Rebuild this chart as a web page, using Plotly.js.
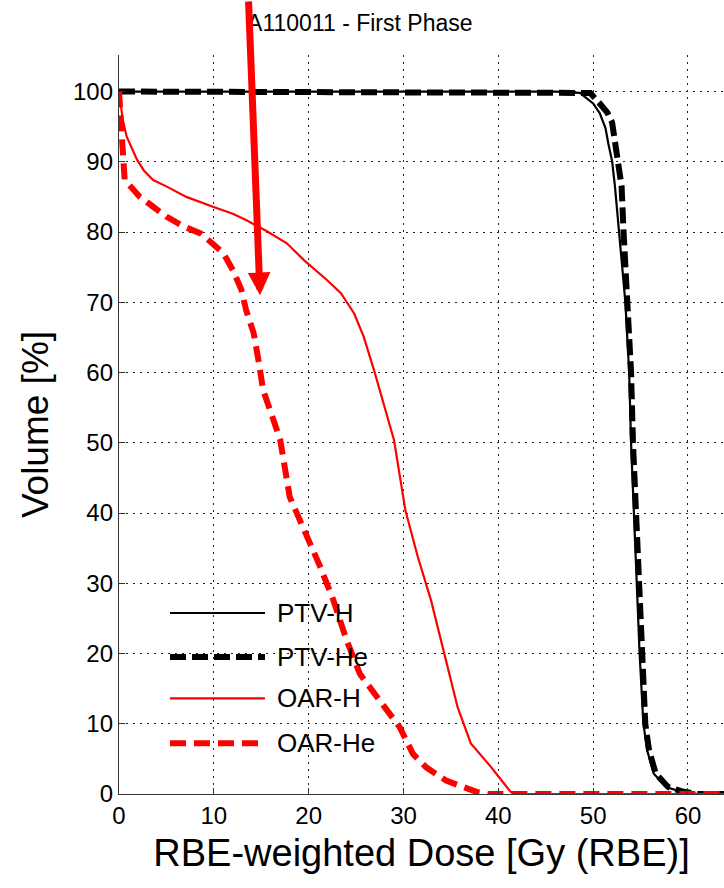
<!DOCTYPE html>
<html>
<head>
<meta charset="utf-8">
<script src="https://cdn.plot.ly/plotly-3.0.1.min.js"></script>
<style>
  html, body { margin: 0; padding: 0; background: #ffffff; }
  #chart { width: 724px; height: 888px; }
</style>
</head>
<body>
<div id="chart"></div>
<script>
// ---- Data ----
const chartTitle = 'A110011 - First Phase';
const xTitle = 'RBE-weighted Dose [Gy (RBE)]';
const yTitle = 'Volume [%]';
const xTicks = [0, 10, 20, 30, 40, 50, 60];
const yTicks = [0, 10, 20, 30, 40, 50, 60, 70, 80, 90, 100];
const seriesNames = ['PTV-H', 'PTV-He', 'OAR-H', 'OAR-He'];

const dosePtvH = [0, 46, 48.6, 50.0, 50.7, 51.3, 51.6, 52.0, 52.3, 52.6, 52.9, 53.4, 53.8, 54.0, 54.3, 54.6, 54.9, 55.3, 55.7, 56.4, 57.7, 59.1, 61, 64];
const volPtvH  = [100, 100, 99.8, 98.3, 96.9, 94.8, 92.6, 90.1, 86.5, 82.2, 77, 70, 60, 50, 40, 30, 20, 10, 6.2, 2.9, 1.0, 0.4, 0, 0];

const dosePtvHe = [0, 47, 49.7, 50.7, 51.5, 52.0, 52.3, 52.7, 53.0, 53.2, 53.6, 54.0, 54.2, 54.5, 54.8, 55.1, 55.5, 55.9, 56.6, 57.9, 59.3, 61, 64];
const volPtvHe  = [100, 100, 99.8, 98.3, 97, 95.6, 92.9, 90.1, 86.5, 80.2, 70, 60, 50, 40, 30, 20, 10, 6.2, 2.9, 1.0, 0.4, 0, 0];

const doseOarH = [0, 0.4, 0.8, 1.3, 1.9, 2.6, 3.6, 5.0, 7.1, 9.9, 12.0, 13.4, 15.6, 17.7, 19.5, 21.9, 23.4, 24.8, 25.8, 26.9, 27.9, 29.0, 30.2, 31.5, 32.9, 34.3, 35.7, 37.1, 39.2, 40.6, 41.3, 42.0, 64];
const volOarH  = [100, 96, 93.6, 92.2, 90.3, 88.8, 87.4, 86.5, 85.0, 83.6, 82.6, 81.7, 80.1, 78.4, 76.0, 73.2, 71.3, 68.4, 65.1, 60.3, 55.6, 50.4, 40.4, 33.8, 27.6, 20.0, 12.4, 7.2, 3.9, 1.5, 0.3, 0, 0];

const doseOarHe = [0, 0.3, 0.6, 1.2, 2.2, 3.6, 5.0, 6.8, 8.6, 10.0, 11.0, 12.0, 12.9, 13.4, 14.2, 14.7, 15.2, 16.3, 17.0, 18.0, 19.1, 20.1, 21.2, 22.6, 24.0, 25.4, 27.5, 29.6, 31.0, 32.4, 34.5, 36.7, 37.7, 39.0, 64];
const volOarHe  = [100, 93, 87.4, 86.5, 85.0, 83.6, 82.2, 80.8, 79.8, 78.2, 77.0, 74.6, 71.8, 68.9, 65.6, 61.8, 57.5, 53.2, 50.4, 42.3, 39.0, 36.1, 32.4, 27.6, 21.9, 17.1, 13.3, 9.5, 5.7, 3.8, 1.9, 0.8, 0.3, 0, 0];

// Arrow annotation tip (data coords)
const arrowTipDose = 14.87;
const arrowTipVol = 71.0;

// ---- Styles ----
const FONT = 'Liberation Sans, Arial, Helvetica, sans-serif';
const styles = [
  { color: '#000000', width: 2.2, dash: 'solid' },
  { color: '#000000', width: 6, dash: '16px,6px' },
  { color: '#ff0000', width: 2.2, dash: 'solid' },
  { color: '#ff0000', width: 6, dash: '16px,8px' }
];
const xs = [dosePtvH, dosePtvHe, doseOarH, doseOarHe];
const ys = [volPtvH, volPtvHe, volOarH, volOarHe];

const traces = seriesNames.map((name, i) => ({
  type: 'scatter',
  mode: 'lines',
  name: name,
  x: xs[i],
  y: ys[i],
  line: { color: styles[i].color, width: styles[i].width, dash: styles[i].dash, shape: 'linear' },
  showlegend: false,
  hoverinfo: 'skip'
}));

// Manual legend (long line samples like the reference)
const legX0 = 0.0843, legX1 = 0.2413, legTextX = 0.2579;
const legRows = [0.2449, 0.1854, 0.1295, 0.0686];
const shapes = [];
const annotations = [];
seriesNames.forEach((name, i) => {
  shapes.push({
    type: 'line', xref: 'paper', yref: 'paper',
    x0: legX0, x1: legX1, y0: legRows[i], y1: legRows[i],
    line: { color: styles[i].color, width: styles[i].width, dash: styles[i].dash }
  });
  annotations.push({
    xref: 'paper', yref: 'paper', x: legTextX, y: legRows[i],
    xanchor: 'left', yanchor: 'middle', showarrow: false,
    text: name, font: { family: FONT, size: 26, color: '#000' }
  });
});

annotations.push({
  xref: 'x', yref: 'y', x: arrowTipDose, y: arrowTipVol,
  ax: -11.5, ay: -300, text: '', showarrow: true,
  arrowhead: 2, arrowsize: 0.65, arrowwidth: 7, arrowcolor: '#ff0000', standoff: 0
});

const axisCommon = {
  showgrid: true,
  gridcolor: '#222222',
  griddash: '2px,5px',
  gridwidth: 1,
  zeroline: false,
  showline: true,
  linecolor: '#333333',
  linewidth: 1.2,
  ticks: 'inside',
  ticklen: 6,
  tickcolor: '#333333',
  tickfont: { family: FONT, size: 24, color: '#000' },
  mirror: false
};

const layout = {
  width: 724,
  height: 888,
  margin: { l: 119, r: 0, t: 55, b: 94, pad: 0 },
  paper_bgcolor: '#ffffff',
  plot_bgcolor: '#ffffff',
  font: { family: FONT, color: '#000' },
  title: {
    text: chartTitle,
    font: { family: FONT, size: 23, color: '#000' },
    xref: 'container', x: 0.497, xanchor: 'center',
    yref: 'container', y: 1 - 23 / 888, yanchor: 'middle'
  },
  xaxis: Object.assign({}, axisCommon, {
    range: [0, 63.8],
    tickvals: xTicks,
    ticktext: xTicks.map(String),
    title: { text: xTitle, font: { family: FONT, size: 38, color: '#000' }, standoff: 11 }
  }),
  yaxis: Object.assign({}, axisCommon, {
    range: [0, 105.2],
    tickvals: yTicks,
    ticktext: yTicks.map(String),
    title: { text: yTitle, font: { family: FONT, size: 37, color: '#000' }, standoff: 13 }
  }),
  showlegend: false,
  shapes: shapes,
  annotations: annotations
};

Plotly.newPlot('chart', traces, layout, { displayModeBar: false, staticPlot: true });
</script>
</body>
</html>
